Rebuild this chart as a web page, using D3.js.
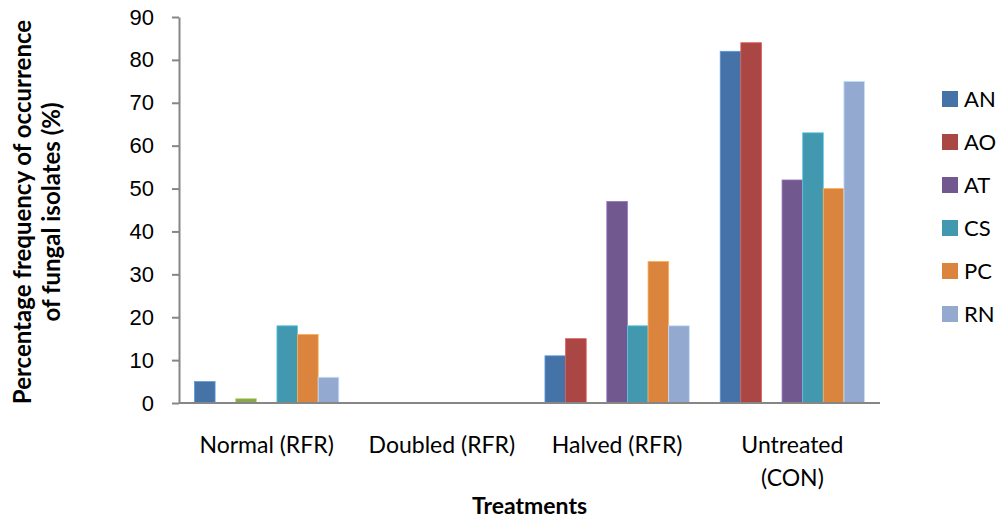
<!DOCTYPE html>
<html>
<head>
<meta charset="utf-8">
<script src="https://cdn.jsdelivr.net/npm/d3@7"></script>
<style>
  body { margin: 0; background: #fff; }
  svg { font-family: Lato, 'Open Sans', sans-serif; }
</style>
</head>
<body>
<div id="chart"></div>
<script>
const categories = [['Normal (RFR)'], ['Doubled (RFR)'], ['Halved (RFR)'], ['Untreated', '(CON)']]
// third series has no name in the legend (green bar in Normal group)
const seriesNames = ['AN', 'AO', '', 'AT', 'CS', 'PC', 'RN']
const seriesColors = ['#4572A7', '#AA4643', '#89A54E', '#71588F', '#4198AF', '#DB843D', '#93A9CF']
const values = [
  [5, 0, 11, 82],
  [0, 0, 15, 84],
  [1, 0, 0, 0],
  [0, 0, 47, 52],
  [18, 0, 18, 63],
  [16, 0, 33, 50],
  [6, 0, 18, 75]
]
const yTicks = [0, 10, 20, 30, 40, 50, 60, 70, 80, 90]

const width = 998
const height = 520
const margin = { top: 17, right: 118, bottom: 117, left: 179 }
const innerWidth = width - margin.left - margin.right
const innerHeight = height - margin.top - margin.bottom

const svg = d3.select('#chart').append('svg')
  .attr('width', width)
  .attr('height', height)

const g = svg.append('g')
  .attr('transform', `translate(${margin.left},${margin.top})`)

const x0 = d3.scaleBand()
  .domain(d3.range(categories.length))
  .range([0, innerWidth])
  .paddingInner(0)

// gap width ~150% like Excel
const x1 = d3.scaleBand()
  .domain(d3.range(seriesNames.length))
  .range([0, x0.bandwidth()])
  .paddingOuter(0.75)
  .paddingInner(0)

const y = d3.scaleLinear()
  .domain([0, 90])
  .range([innerHeight, 0])

// bars
categories.forEach((c, ci) => {
  g.append('g')
    .attr('transform', `translate(${x0(ci)},0)`)
    .selectAll('rect')
    .data(seriesNames.map((s, si) => ({ si, v: values[si][ci] })).filter(d => d.v > 0))
    .join('rect')
    .attr('x', d => x1(d.si))
    .attr('y', d => y(d.v))
    .attr('width', x1.bandwidth())
    .attr('height', d => innerHeight - y(d.v))
    .attr('fill', d => seriesColors[d.si])
    .attr('stroke', d => d3.color(seriesColors[d.si]).brighter(0.8))
    .attr('stroke-width', 0.8)
})

// y axis
const yAxis = g.append('g')
  .call(d3.axisLeft(y).tickValues(yTicks).tickSize(7).tickSizeOuter(0).tickPadding(18))
yAxis.select('.domain').attr('stroke', '#868686').attr('stroke-width', 2)
yAxis.selectAll('.tick line').attr('stroke', '#868686').attr('stroke-width', 2)
yAxis.selectAll('.tick text')
  .style('font-size', '22px')
  .attr('fill', '#000')

// x axis line
g.append('line')
  .attr('x1', 0).attr('x2', innerWidth)
  .attr('y1', innerHeight).attr('y2', innerHeight)
  .attr('stroke', '#868686').attr('stroke-width', 2)

// category labels
const catLabels = g.selectAll('.cat')
  .data(categories)
  .join('text')
  .attr('class', 'cat')
  .attr('x', (d, i) => x0(i) + x0.bandwidth() / 2)
  .attr('y', innerHeight + 50)
  .attr('text-anchor', 'middle')
  .style('font-size', '23px')
catLabels.each(function (d) {
  d3.select(this).selectAll('tspan')
    .data(d)
    .join('tspan')
    .attr('x', d3.select(this).attr('x'))
    .attr('dy', (t, i) => i === 0 ? 0 : 33)
    .text(t => t)
})

// axis titles
svg.append('text')
  .attr('x', margin.left + innerWidth / 2)
  .attr('y', 514)
  .attr('text-anchor', 'middle')
  .style('font-size', '23px')
  .style('font-weight', 'bold')
  .text('Treatments')

const yTitle = svg.append('text')
  .attr('transform', 'translate(31,212) rotate(-90)')
  .attr('text-anchor', 'middle')
  .style('font-size', '24px')
  .style('font-weight', 'bold')
yTitle.append('tspan').attr('x', 0).attr('dy', 0).text('Percentage frequency of occurrence')
yTitle.append('tspan').attr('x', 0).attr('dy', 29).text('of fungal isolates (%)')

// legend (unnamed series left out)
const legendItems = seriesNames.map((s, i) => ({ s, c: seriesColors[i] })).filter(d => d.s)
const legend = svg.append('g')
  .attr('transform', 'translate(942,99)')
const li = legend.selectAll('g')
  .data(legendItems)
  .join('g')
  .attr('transform', (d, i) => `translate(0,${i * 43})`)
li.append('rect')
  .attr('x', 0).attr('y', -8)
  .attr('width', 16).attr('height', 16)
  .attr('fill', d => d.c)
li.append('text')
  .attr('x', 22)
  .attr('y', 0)
  .attr('dy', '0.36em')
  .style('font-size', '22px')
  .text(d => d.s)
</script>
</body>
</html>
